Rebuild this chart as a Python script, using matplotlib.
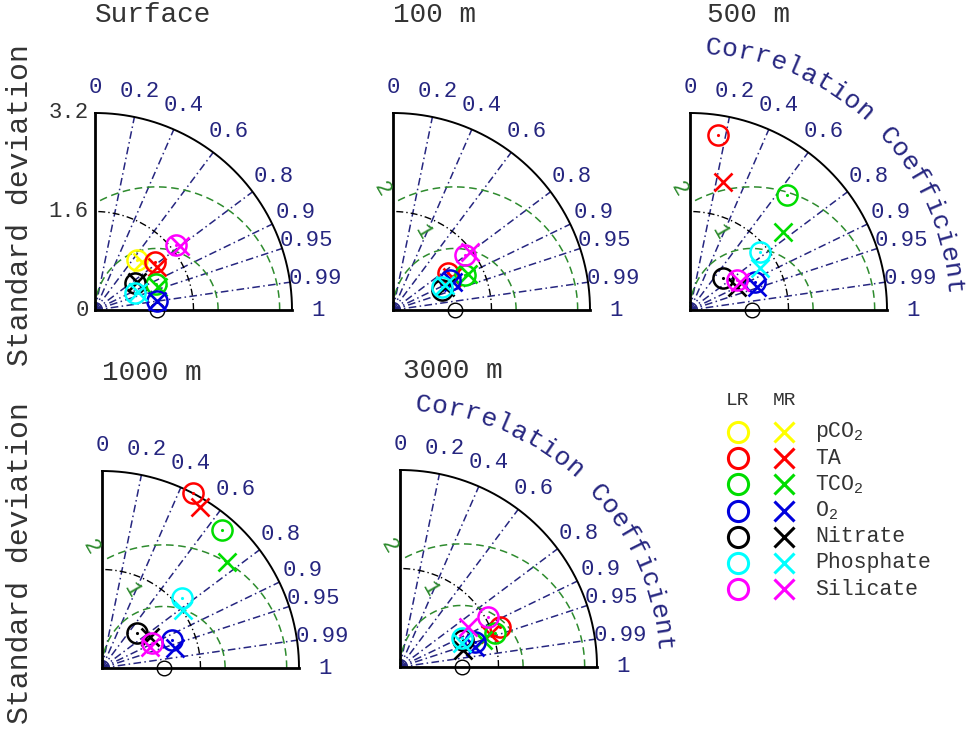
import numpy as np
import matplotlib
matplotlib.use('Agg')
import matplotlib.pyplot as plt

plt.rcParams['font.family'] = ['Liberation Mono', 'DejaVu Sans Mono']
plt.rcParams['mathtext.fontset'] = 'custom'
plt.rcParams['mathtext.rm'] = 'Liberation Mono'
plt.rcParams['mathtext.it'] = 'Liberation Mono'
plt.rcParams['mathtext.bf'] = 'Liberation Mono'

# ---------------- data ----------------
variables = ['pCO$_2$', 'TA', 'TCO$_2$', 'O$_2$', 'Nitrate', 'Phosphate', 'Silicate']
colors = ['#ffff00', '#ff0000', '#00dd00', '#0000dd', '#000000', '#00ffff', '#ff00ff']
depths = ['Surface', '100 m', '500 m', '1000 m', '3000 m']

nan = np.nan
# normalised standard deviation and correlation, LR (circles) and MR (crosses)
lr_std_surface = [1.06, 1.25, 1.08, 1.02, 0.79, 0.71, 1.68]
lr_cor_surface = [0.64, 0.78, 0.92, 0.99, 0.83, 0.92, 0.78]
mr_std_surface = [1.09, 1.23, 1.09, 1.01, 0.82, 0.76, 1.72]
mr_cor_surface = [0.70, 0.82, 0.94, 0.99, 0.83, 0.92, 0.80]

lr_std_100 = [nan, 1.07, 1.30, 1.05, 0.86, 0.88, 1.47]
lr_cor_100 = [nan, 0.83, 0.90, 0.885, 0.926, 0.905, 0.795]
mr_std_100 = [nan, 1.10, 1.36, 1.075, 0.92, 0.94, 1.56]
mr_cor_100 = [nan, 0.87, 0.90, 0.906, 0.914, 0.90, 0.80]

lr_std_500 = [nan, 2.88, 2.44, 1.15, 0.75, 1.48, 0.905]
lr_cor_500 = [nan, 0.16, 0.645, 0.918, 0.718, 0.77, 0.843]
mr_std_500 = [nan, 2.15, 1.97, 1.15, 0.85, 1.33, 0.93]
mr_cor_500 = [nan, 0.25, 0.766, 0.946, 0.898, 0.857, 0.87]

lr_std_1000 = [nan, 3.20, 2.97, 1.225, 0.80, 1.73, 0.906]
lr_cor_1000 = [nan, 0.46, 0.656, 0.928, 0.707, 0.753, 0.894]
mr_std_1000 = [nan, 3.06, 2.66, 1.23, 0.93, 1.62, 0.85]
mr_cor_1000 = [nan, 0.52, 0.763, 0.964, 0.84, 0.813, 0.916]

lr_std_3000 = [nan, 1.75, 1.64, 1.28, 1.11, 1.11, 1.64]
lr_cor_3000 = [nan, 0.93, 0.94, 0.95, 0.918, 0.906, 0.87]
mr_std_3000 = [nan, 1.55, 1.42, 1.26, 1.06, 1.08, 1.28]
mr_cor_3000 = [nan, 0.94, 0.95, 0.966, 0.965, 0.93, 0.86]

ref_std = 1.0
std_max = 3.2
std_ticks = [0, 1.6, 3.2]
std_ticklabels = ['0', '1.6', '3.2']
cor_rays = [0.2, 0.4, 0.6, 0.8, 0.9, 0.95, 0.99]
cor_ticks = [0, 0.2, 0.4, 0.6, 0.8, 0.9, 0.95, 0.99, 1]
cor_ticklabels = ['0', '0.2', '0.4', '0.6', '0.8', '0.9', '0.95', '0.99', '1']
rms_levels = [1, 2]

data = {
    'Surface': (lr_std_surface, lr_cor_surface, mr_std_surface, mr_cor_surface),
    '100 m': (lr_std_100, lr_cor_100, mr_std_100, mr_cor_100),
    '500 m': (lr_std_500, lr_cor_500, mr_std_500, mr_cor_500),
    '1000 m': (lr_std_1000, lr_cor_1000, mr_std_1000, mr_cor_1000),
    '3000 m': (lr_std_3000, lr_cor_3000, mr_std_3000, mr_cor_3000),
}

# ---------------- layout ----------------
W, H = 969, 735
R = 197.0  # pixels for std_max
NAVY = '#262680'
GREEN = '#2e8b2e'
GREY = '#333333'

panels = {
    'Surface': dict(o=(95, 310), tx=0.0, stdlab=True, ylab=True, curve=False, rmslab=False),
    '100 m': dict(o=(393, 310), tx=0.0, stdlab=False, ylab=False, curve=False, rmslab=True),
    '500 m': dict(o=(690, 310), tx=0.28, stdlab=False, ylab=False, curve=True, rmslab=True),
    '1000 m': dict(o=(102, 668), tx=0.0, stdlab=False, ylab=True, curve=False, rmslab=True),
    '3000 m': dict(o=(400, 667), tx=0.05, stdlab=False, ylab=False, curve=True, rmslab=True),
}

fig = plt.figure(figsize=(W / 100, H / 100), dpi=100)
fig.patch.set_facecolor('white')

dashdot = (0, (5, 2.2, 1, 2.2))


def make_ax(ox, oy):
    ax = fig.add_axes([ox / W, 1 - oy / H, R / W, R / H])
    ax.set_xlim(0, std_max)
    ax.set_ylim(0, std_max)
    ax.axis('off')
    ax.patch.set_alpha(0)
    return ax


for name in depths:
    p = panels[name]
    ax = make_ax(*p['o'])

    # correlation rays
    for c in cor_rays:
        s = np.sqrt(1 - c ** 2)
        ax.plot([0, std_max * c], [0, std_max * s], color=NAVY, lw=1.1,
                linestyle=dashdot, clip_on=False, zorder=1)
    # tiny arcs near origin
    for rr in [0.06, 0.12]:
        th = np.linspace(0, np.pi / 2, 30)
        ax.plot(rr * np.cos(th), rr * np.sin(th), color=NAVY, lw=1.0, clip_on=False, zorder=1)

    # std arc (black dash-dot)
    th = np.linspace(0, np.pi / 2, 200)
    ax.plot(1.6 * np.cos(th), 1.6 * np.sin(th), color='black', lw=1.0,
            linestyle=dashdot, clip_on=False, zorder=1)

    # RMS arcs
    for lev in rms_levels:
        amax = np.pi if lev <= ref_std else np.arccos(-ref_std / lev)
        a = np.linspace(0, amax, 200)
        ax.plot(ref_std + lev * np.cos(a), lev * np.sin(a), color=GREEN, lw=1.1,
                linestyle=(0, (5, 3)), clip_on=False, zorder=1)
    if p['rmslab']:
        for lev, rr, ang in [(1, 1.37, 112), (2, 2.3, 121)]:
            a = np.deg2rad(ang)
            ax.text(ref_std + rr * np.cos(a), rr * np.sin(a), str(lev), color=GREEN,
                    fontsize=16, rotation=-60, ha='center', va='center')

    # outline
    ax.plot([0, 0], [0, std_max], color='black', lw=2.0, clip_on=False, zorder=2)
    ax.plot([0, std_max], [0, 0], color='black', lw=2.0, clip_on=False, zorder=2)
    ax.plot(std_max * np.cos(th), std_max * np.sin(th), color='black', lw=1.4,
            clip_on=False, zorder=2)

    # correlation labels
    for c, lab in zip(cor_ticks, cor_ticklabels):
        s = np.sqrt(1 - c ** 2)
        ax.text(3.62 * c, 3.62 * s, lab, color=NAVY, fontsize=16,
                ha='center', va='center')

    # std labels
    if p['stdlab']:
        for t, lab in zip(std_ticks, std_ticklabels):
            ax.text(-0.1, t, lab, color=GREY, fontsize=16, ha='right', va='center')

    # title
    ax.text(p['tx'], 4.8, name, color=GREY, fontsize=20, ha='left', va='center')

    # y label
    if p['ylab']:
        ax.text(-(p['o'][0] - 20) / (R / std_max), 1.7, 'Standard deviation', color=GREY,
                fontsize=21.5, rotation=90, ha='center', va='center')

    # curved text
    if p['curve']:
        txt = 'Correlation Coefficient'
        angs = np.linspace(85, 5, len(txt))
        for ch, ang in zip(txt, angs):
            a = np.deg2rad(ang)
            ax.text(4.28 * np.cos(a), 4.28 * np.sin(a), ch, color=NAVY, fontsize=19,
                    rotation=ang - 90, rotation_mode='anchor', ha='center', va='center')

    # reference point
    ax.plot([ref_std], [0], marker='o', ms=10.5, mfc='none', mec='black', mew=1.0,
            clip_on=False, zorder=5)

    # data
    lr_s, lr_c, mr_s, mr_c = data[name]
    lr_s = np.array(lr_s); lr_c = np.array(lr_c)
    mr_s = np.array(mr_s); mr_c = np.array(mr_c)
    for i, col in enumerate(colors):
        if not np.isnan(lr_s[i]):
            x = lr_s[i] * lr_c[i]
            y = lr_s[i] * np.sqrt(1 - lr_c[i] ** 2)
            ax.plot([x], [y], marker='o', ms=14.5, mfc='none', mec=col, mew=1.8,
                    clip_on=False, zorder=6)
            ax.plot([x], [y], marker='.', ms=2.5, color=col, clip_on=False, zorder=6)
        if not np.isnan(mr_s[i]):
            x = mr_s[i] * mr_c[i]
            y = mr_s[i] * np.sqrt(1 - mr_c[i] ** 2)
            ax.plot([x], [y], marker='x', ms=13.5, color=col, mew=1.9,
                    clip_on=False, zorder=6)

# ---------------- legend ----------------
lg = fig.add_axes([700 / W, 1 - 620 / H, 269 / W, 240 / H])
lg.set_xlim(700, 969)
lg.set_ylim(620, 380)
lg.axis('off')
lg.text(738, 401, 'LR', color=GREY, fontsize=14, ha='center', va='center')
lg.text(785, 401, 'MR', color=GREY, fontsize=14, ha='center', va='center')
row_y = 432
for i, (var, col) in enumerate(zip(variables, colors)):
    yy = row_y + i * 26.2
    lg.plot([738], [yy], marker='o', ms=14.5, mfc='none', mec=col, mew=2.2)
    lg.plot([784], [yy], marker='x', ms=14, color=col, mew=2.2)
    lg.text(815, yy, var, color=GREY, fontsize=15.5, ha='left', va='center')

fig.savefig('out.png', dpi=100, facecolor='white')
